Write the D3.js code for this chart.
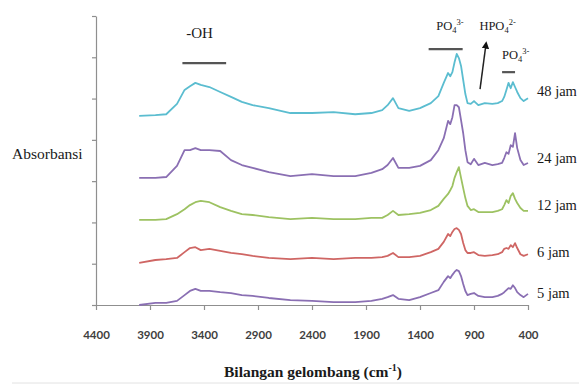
<!DOCTYPE html>
<html>
<head>
<meta charset="utf-8">
<script src="https://cdn.jsdelivr.net/npm/d3@7"></script>
<style>
  html, body { margin: 0; padding: 0; background: #fff; }
  svg { display: block; }
</style>
</head>
<body>
<svg id="chart" width="579" height="385"></svg>
<script>
// Wavenumber grid (cm-1) shared by every spectrum
const wavenumbers = [4000, 3850, 3750, 3650, 3580, 3530, 3480, 3430, 3350, 3250,
  3150, 3050, 2950, 2800, 2600, 2400, 2200, 2000, 1850, 1750,
  1700, 1650, 1600, 1500, 1400, 1300, 1230, 1180, 1140, 1120,
  1100, 1080, 1060, 1040, 1020, 1000, 980, 960, 930, 900,
  860, 800, 730, 680, 640, 620, 600, 580, 560, 540,
  520, 500, 470, 440, 400];

// Stacked absorbance (arbitrary units) for each immersion time
const abs48 = [4.58, 4.60, 4.62, 4.87, 5.21, 5.30, 5.38, 5.33, 5.28, 5.16,
  5.04, 4.92, 4.84, 4.77, 4.65, 4.65, 4.67, 4.62, 4.65, 4.72,
  4.84, 5.01, 4.77, 4.70, 4.77, 4.89, 5.06, 5.38, 5.62, 5.54,
  5.64, 5.88, 6.08, 5.98, 5.79, 5.45, 5.11, 4.89, 4.87, 4.94,
  4.84, 4.89, 4.87, 4.89, 4.94, 5.04, 5.21, 5.38, 5.25, 5.40,
  5.28, 5.16, 5.01, 4.94, 5.01];
const abs24 = [3.08, 3.08, 3.10, 3.37, 3.75, 3.75, 3.80, 3.75, 3.75, 3.73,
  3.51, 3.39, 3.32, 3.22, 3.12, 3.17, 3.12, 3.12, 3.20, 3.29,
  3.39, 3.56, 3.32, 3.32, 3.37, 3.51, 3.75, 4.04, 4.46, 4.38,
  4.55, 4.84, 4.84, 4.79, 4.48, 4.16, 3.75, 3.46, 3.41, 3.54,
  3.39, 3.44, 3.39, 3.41, 3.44, 3.56, 3.70, 3.66, 3.87, 3.83,
  4.16, 3.80, 3.51, 3.39, 3.44];
const abs12 = [2.06, 2.06, 2.08, 2.20, 2.32, 2.42, 2.49, 2.52, 2.49, 2.37,
  2.28, 2.20, 2.18, 2.13, 2.08, 2.11, 2.08, 2.08, 2.11, 2.11,
  2.18, 2.28, 2.18, 2.20, 2.23, 2.30, 2.40, 2.57, 2.69, 2.78,
  2.88, 3.08, 3.22, 3.34, 3.08, 2.83, 2.59, 2.40, 2.30, 2.32,
  2.25, 2.25, 2.25, 2.28, 2.32, 2.42, 2.54, 2.47, 2.64, 2.71,
  2.57, 2.47, 2.35, 2.28, 2.28];
const abs6 = [1.02, 1.09, 1.11, 1.14, 1.28, 1.38, 1.40, 1.33, 1.36, 1.31,
  1.26, 1.23, 1.19, 1.14, 1.11, 1.14, 1.11, 1.14, 1.14, 1.16,
  1.19, 1.26, 1.16, 1.16, 1.19, 1.28, 1.36, 1.53, 1.72, 1.67,
  1.77, 1.84, 1.86, 1.82, 1.72, 1.50, 1.33, 1.26, 1.26, 1.28,
  1.21, 1.19, 1.21, 1.23, 1.28, 1.36, 1.38, 1.36, 1.45, 1.40,
  1.50, 1.38, 1.23, 1.19, 1.23];
const abs5 = [0.00, 0.05, 0.05, 0.10, 0.24, 0.34, 0.39, 0.34, 0.34, 0.31,
  0.29, 0.24, 0.22, 0.17, 0.12, 0.10, 0.07, 0.07, 0.10, 0.15,
  0.19, 0.24, 0.15, 0.12, 0.19, 0.29, 0.36, 0.56, 0.70, 0.65,
  0.73, 0.80, 0.85, 0.82, 0.70, 0.51, 0.34, 0.24, 0.27, 0.29,
  0.22, 0.19, 0.19, 0.22, 0.27, 0.31, 0.36, 0.41, 0.39, 0.48,
  0.41, 0.31, 0.24, 0.19, 0.27];

const seriesNames = ["48 jam", "24 jam", "12 jam", "6 jam", "5 jam"];
const seriesValues = [abs48, abs24, abs12, abs6, abs5];
const seriesColors = ["#5bbdd0", "#8a6fb3", "#9dc262", "#cf6664", "#8a6fb3"];
const labelLevels = [5.18, 3.56, 2.42, 1.28, 0.29];

const xTicks = [4400, 3900, 3400, 2900, 2400, 1900, 1400, 900, 400];
const yTicks = [0, 1, 2, 3, 4, 5, 6, 7];

const svg = d3.select("#chart");
const x = d3.scaleLinear().domain([4400, 400]).range([96, 528]);
const y = d3.scaleLinear().domain([0, 7]).range([305, 16]);

// Axes
const axisColor = "#8f8f8f";
const gx = svg.append("g").attr("transform", `translate(0,${y(0)})`)
  .call(d3.axisBottom(x).tickValues(xTicks).tickSizeInner(5).tickSizeOuter(0)
    .tickPadding(21).tickFormat(d3.format("d")));
const gy = svg.append("g").attr("transform", `translate(${x(4400)},0)`)
  .call(d3.axisLeft(y).tickValues(yTicks).tickSizeInner(4).tickSizeOuter(0).tickFormat(""));
[gx, gy].forEach(g => {
  g.select(".domain").attr("stroke", axisColor).attr("stroke-width", 1.2);
  g.selectAll(".tick line").attr("stroke", axisColor).attr("stroke-width", 1.2);
});
gx.selectAll(".tick text")
  .attr("font-family", "Lato, 'Liberation Sans', sans-serif")
  .attr("font-size", 11.5)
  .attr("font-weight", "bold")
  .attr("fill", "#404040");

// Spectra
const line = d3.line()
  .x((d, i) => x(wavenumbers[i]))
  .y(d => y(d));
seriesValues.forEach((vals, k) => {
  svg.append("path")
    .datum(vals)
    .attr("d", line)
    .attr("fill", "none")
    .attr("stroke", seriesColors[k])
    .attr("stroke-width", 1.8)
    .attr("stroke-linejoin", "round");
});

const serif = "'Liberation Serif', 'Times New Roman', serif";

// Series labels on the right
svg.selectAll(".slabel").data(seriesNames).join("text")
  .attr("class", "slabel")
  .attr("x", 537)
  .attr("y", (d, i) => y(labelLevels[i]))
  .attr("dy", "0.32em")
  .attr("font-family", serif)
  .attr("font-size", 14.5)
  .attr("fill", "#1a1a1a")
  .text(d => d);

// Axis titles
svg.append("text")
  .attr("x", 12).attr("y", 154).attr("dy", "0.32em")
  .attr("font-family", serif).attr("font-size", 15.5).attr("fill", "#1a1a1a")
  .text("Absorbansi");

const xt = svg.append("text")
  .attr("x", 313).attr("y", 377)
  .attr("text-anchor", "middle")
  .attr("font-family", serif).attr("font-size", 15.5).attr("font-weight", "bold")
  .attr("fill", "#1a1a1a");
xt.append("tspan").text("Bilangan gelombang (cm");
xt.append("tspan").attr("dy", -6).attr("font-size", 10).text("-1");
xt.append("tspan").attr("dy", 6).text(")");

// Band annotations
const barColor = "#555";
function bar(w0, w1, level) {
  svg.append("line")
    .attr("x1", x(w0)).attr("x2", x(w1))
    .attr("y1", y(level)).attr("y2", y(level))
    .attr("stroke", barColor).attr("stroke-width", 2.2);
}
bar(3600, 3195, 5.86);
bar(1320, 1005, 6.20);
bar(640, 520, 5.64);

svg.append("text")
  .attr("x", x(3565)).attr("y", y(6.59)).attr("dy", "0.32em")
  .attr("font-family", serif).attr("font-size", 15).attr("fill", "#1a1a1a")
  .text("-OH");

function ionLabel(px, py, base, sup) {
  const t = svg.append("text")
    .attr("x", px).attr("y", py)
    .attr("font-family", serif).attr("font-size", 12.5).attr("fill", "#1a1a1a");
  t.append("tspan").text(base);
  t.append("tspan").attr("dy", 3).attr("font-size", 8.5).text("4");
  t.append("tspan").attr("dy", -8).attr("font-size", 8.5).text(sup);
}
ionLabel(x(1250), y(6.65), "PO", "3-");
ionLabel(x(850), y(6.65), "HPO", "2-");
ionLabel(x(640), y(5.97), "PO", "3-");

// Arrow pointing to the HPO4 band
svg.append("defs").append("marker")
  .attr("id", "arrowhead")
  .attr("viewBox", "0 0 10 10")
  .attr("refX", 5).attr("refY", 5)
  .attr("markerWidth", 5).attr("markerHeight", 5)
  .attr("orient", "auto")
  .append("path").attr("d", "M0,0 L10,5 L0,10 z").attr("fill", "#111");
svg.append("line")
  .attr("x1", x(844)).attr("y1", y(5.23))
  .attr("x2", x(790)).attr("y2", y(6.30))
  .attr("stroke", "#222").attr("stroke-width", 1.5)
  .attr("marker-end", "url(#arrowhead)");

// Faint rule along the bottom edge
svg.append("line")
  .attr("x1", 12).attr("x2", 579).attr("y1", 383).attr("y2", 383)
  .attr("stroke", "#e2e2e2").attr("stroke-width", 1);
</script>
</body>
</html>
